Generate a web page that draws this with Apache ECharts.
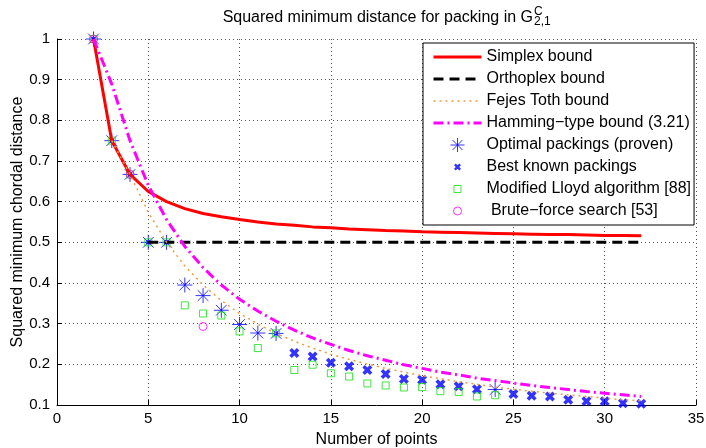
<!DOCTYPE html>
<html>
<head>
<meta charset="utf-8">
<script src="https://cdn.jsdelivr.net/npm/echarts@6/dist/echarts.min.js"></script>
<style>html,body{margin:0;padding:0;background:#fff}#c{width:706px;height:448px}</style>
</head>
<body>
<div id="c"></div>
<script>
const FONT = '"Liberation Sans", Arial, Helvetica, sans-serif';

// Bounds, evaluated at N = 2..32
const boundN = [2,3,4,5,6,7,8,9,10,11,12,13,14,15,16,17,18,19,20,21,22,23,24,25,26,27,28,29,30,31,32];
const simplex = [1.000,0.750,0.667,0.625,0.600,0.583,0.571,0.563,0.556,0.550,0.545,0.542,0.538,0.536,0.533,0.531,0.529,0.528,0.526,0.525,0.524,0.523,0.522,0.521,0.520,0.519,0.519,0.518,0.517,0.517,0.516];
const hamming = [1.000,0.889,0.750,0.640,0.556,0.490,0.438,0.395,0.360,0.331,0.306,0.284,0.265,0.249,0.234,0.221,0.210,0.199,0.190,0.181,0.174,0.166,0.160,0.154,0.148,0.143,0.138,0.133,0.129,0.125,0.121];
const orthoN = [5, 32];
const ortho = [0.5, 0.5];
const fejesN = [3,4,5,6,7,8,9,10,11,12,13,14,15,16,17,18,19,20,21,22,23,24,25,26,27,28,29,30,31,32];
const fejes = [0.750,0.667,0.574,0.500,0.442,0.395,0.357,0.325,0.299,0.276,0.257,0.240,0.225,0.212,0.201,0.190,0.181,0.172,0.165,0.157,0.151,0.144,0.139,0.134,0.129,0.125,0.121,0.117,0.113,0.110];

// Markers
const optN = [2,3,4,5,6,7,8,9,10,11,12,24];
const optV = [1.000,0.750,0.667,0.500,0.500,0.395,0.369,0.333,0.298,0.277,0.276,0.138];
const bestN = [13,14,15,16,17,18,19,20,21,22,23,25,26,27,28,29,30,31,32];
const bestV = [0.228,0.219,0.204,0.195,0.186,0.176,0.164,0.162,0.151,0.146,0.139,0.127,0.123,0.121,0.113,0.109,0.109,0.104,0.103];
const bestCoreN = [2,3,4,5,6,12];
const bestCoreV = [1.000,0.750,0.667,0.500,0.500,0.276];
const lloydN = [2,3,4,5,6,7,8,9,10,11,12,13,14,15,16,17,18,19,20,21,22,23,24];
const lloydV = [1.000,0.750,0.667,0.500,0.500,0.345,0.325,0.320,0.281,0.240,0.276,0.186,0.199,0.178,0.170,0.153,0.148,0.143,0.144,0.134,0.132,0.121,0.124];
const bruteN = [2,4,8];
const bruteV = [1.000,0.667,0.293];

const xTicks = [0,5,10,15,20,25,30,35];

const pair = (xs, ys) => xs.map((x, i) => [x, ys[i]]);

const STAR = 'path://M0,-1L0,1M-1,0L1,0M-0.71,-0.71L0.71,0.71M-0.71,0.71L0.71,-0.71';
const XMARK = 'path://M-1,-0.5L-0.5,-1L0,-0.5L0.5,-1L1,-0.5L0.5,0L1,0.5L0.5,1L0,0.5L-0.5,1L-1,0.5L-0.5,0Z';
const XMARK_L = 'path://M-2,-2M2,2M-1,-0.5L-0.5,-1L0,-0.5L0.5,-1L1,-0.5L0.5,0L1,0.5L0.5,1L0,0.5L-0.5,1L-1,0.5L-0.5,0Z';
const RECT_L = 'path://M-2,-2M2,2M-1,-1L1,-1L1,1L-1,1Z';
const CIRC_L = 'path://M-1.75,-1.75M1.75,1.75M1,0A1,1,0,1,1,-1,0A1,1,0,1,1,1,0Z';

const bestData = pair(bestCoreN, bestCoreV).map(p => ({value: p, symbolSize: 5}))
  .concat(pair(bestN, bestV));

const hideSym = {color: 'rgba(0,0,0,0)', borderWidth: 0, opacity: 0};

const chart = echarts.init(document.getElementById('c'));
chart.setOption({
  animation: false,
  backgroundColor: '#fff',
  graphic: [
    {type: 'text', x: 533, y: 18, style: {text: 'Squared minimum distance for packing in G', font: '16px ' + FONT, fill: '#000', align: 'right', verticalAlign: 'middle'}},
    {type: 'text', x: 534, y: 12, style: {text: 'C', font: '12px ' + FONT, fill: '#000', align: 'left', verticalAlign: 'middle'}},
    {type: 'text', x: 534, y: 22, style: {text: '2,1', font: '12px ' + FONT, fill: '#000', align: 'left', verticalAlign: 'middle'}}
  ],
  grid: {left: 57, right: 10, top: 39, bottom: 43, containLabel: false, outerBoundsMode: 'none'},
  xAxis: {
    type: 'value', min: xTicks[0], max: xTicks[xTicks.length - 1], interval: 5,
    name: 'Number of points', nameLocation: 'middle', nameGap: 27, nameMoveOverlap: false,
    nameTextStyle: {fontSize: 16, color: '#000', fontFamily: FONT},
    axisLine: {show: true, lineStyle: {color: '#000', width: 1}},
    axisTick: {show: true, inside: true, length: 5, lineStyle: {color: '#000'}},
    axisLabel: {color: '#000', fontSize: 15, fontFamily: FONT, margin: 6},
    splitLine: {show: true, lineStyle: {color: '#555', width: 1, type: [1, 3]}}
  },
  yAxis: {
    type: 'value', min: 0.1, max: 1, interval: 0.1,
    name: 'Squared minimum chordal distance', nameLocation: 'middle', nameGap: 31, nameMoveOverlap: false,
    nameTextStyle: {fontSize: 16, color: '#000', fontFamily: FONT},
    axisLine: {show: true, lineStyle: {color: '#000', width: 1}},
    axisTick: {show: true, inside: true, length: 5, lineStyle: {color: '#000'}},
    axisLabel: {color: '#000', fontSize: 15, fontFamily: FONT, margin: 7, formatter: v => String(+v.toFixed(1))},
    splitLine: {show: true, lineStyle: {color: '#555', width: 1, type: [1, 3]}}
  },
  legend: {
    orient: 'vertical', left: 423, top: 43,
    itemWidth: 48, itemHeight: 14, itemGap: 6,
    padding: [6, 3, 6, 9],
    backgroundColor: '#fff', borderColor: '#000', borderWidth: 1,
    selectedMode: false,
    textStyle: {fontSize: 16, color: '#000', fontFamily: FONT},
    itemStyle: {borderWidth: 'inherit'},
    lineStyle: {width: 'inherit'},
    data: [
      {name: 'Simplex bound', itemStyle: hideSym},
      {name: 'Orthoplex bound', itemStyle: hideSym},
      {name: 'Fejes Toth bound', itemStyle: hideSym},
      {name: 'Hamming\u2212type bound (3.21)', itemStyle: hideSym},
      {name: 'Optimal packings (proven)'},
      {name: 'Best known packings', icon: XMARK_L},
      {name: 'Modified Lloyd algorithm [88]', icon: RECT_L},
      {name: ' Brute\u2212force search [53]', icon: CIRC_L}
    ]
  },
  series: [
    {type: 'line', name: 'Simplex bound', data: pair(boundN, simplex), symbol: 'none',
     lineStyle: {color: '#ff0000', width: 3}, itemStyle: {color: '#ff0000'}},
    {type: 'line', name: 'Orthoplex bound', data: pair(orthoN, ortho), symbol: 'none',
     lineStyle: {color: '#000', width: 3, type: [10, 6]}, itemStyle: {color: '#000'}},
    {type: 'line', name: 'Fejes Toth bound', data: pair(fejesN, fejes), symbol: 'none',
     lineStyle: {color: '#f09a40', width: 1.5, type: [2, 4]}, itemStyle: {color: '#f09a40'}},
    {type: 'line', name: 'Hamming\u2212type bound (3.21)', data: pair(boundN, hamming), symbol: 'none',
     lineStyle: {color: '#ff00ff', width: 3, type: [10, 4, 2, 4]}, itemStyle: {color: '#ff00ff'}},
    {type: 'scatter', name: 'Optimal packings (proven)', data: pair(optN, optV), symbol: STAR, symbolSize: 15,
     itemStyle: {color: '#0000ff', borderColor: '#0000ff', borderWidth: 1}},
    {type: 'scatter', name: 'Best known packings', data: bestData, symbol: XMARK, symbolSize: 10,
     itemStyle: {color: '#0000ff', borderWidth: 0}},
    {type: 'scatter', name: 'Modified Lloyd algorithm [88]', data: pair(lloydN, lloydV), symbol: 'rect', symbolSize: 7,
     itemStyle: {color: 'rgba(0,0,0,0)', borderColor: '#11e011', borderWidth: 1}},
    {type: 'scatter', name: ' Brute\u2212force search [53]', data: pair(bruteN, bruteV), symbol: 'circle', symbolSize: 8,
     itemStyle: {color: 'rgba(0,0,0,0)', borderColor: '#ff00ff', borderWidth: 1}}
  ]
});
</script>
</body>
</html>
